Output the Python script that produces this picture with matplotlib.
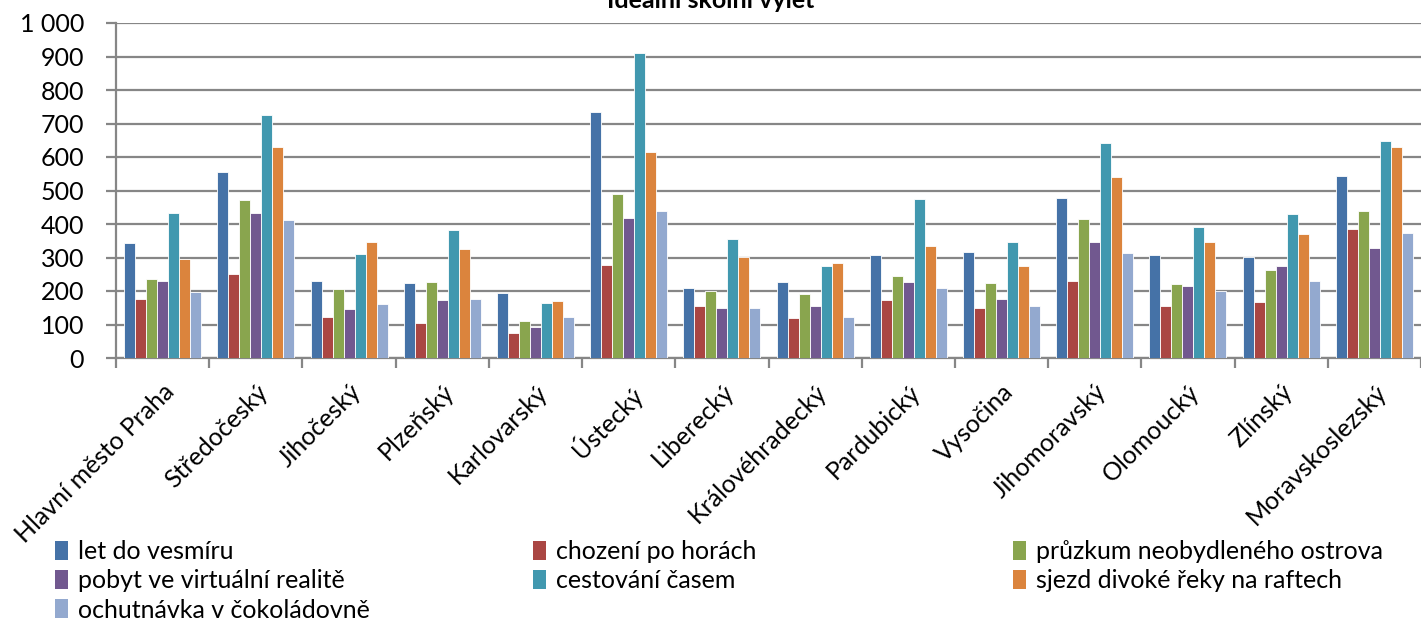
import numpy as np
import matplotlib
matplotlib.use("Agg")
import matplotlib.pyplot as plt
from matplotlib.ticker import FuncFormatter, FixedLocator
from matplotlib.patches import Patch

plt.rcParams['font.family'] = ['Lato', 'DejaVu Sans']

# === data ===
regions = ["Hlavní město Praha", "Středočeský", "Jihočeský", "Plzeňský",
           "Karlovarský", "Ústecký", "Liberecký", "Královéhradecký",
           "Pardubický", "Vysočina", "Jihomoravský", "Olomoucký",
           "Zlínský", "Moravskoslezský"]
series_names = ["let do vesmíru", "chození po horách",
                "průzkum neobydleného ostrova", "pobyt ve virtuální realitě",
                "cestování časem", "sjezd divoké řeky na raftech",
                "ochutnávka v čokoládovně"]
vesmir = [342, 556, 229, 225, 194, 733, 208, 228, 306, 315, 477, 306, 302, 543]
hory = [175, 250, 121, 103, 76, 277, 156, 118, 172, 150, 229, 154, 167, 384]
ostrov = [235, 472, 205, 227, 111, 491, 199, 192, 246, 223, 415, 220, 264, 438]
virtual = [229, 432, 147, 174, 93, 417, 150, 155, 226, 175, 346, 216, 274, 328]
cas = [432, 726, 309, 382, 163, 911, 354, 275, 474, 347, 641, 390, 429, 647]
raft = [297, 630, 346, 325, 169, 615, 301, 284, 334, 276, 539, 347, 369, 631]
cokolada = [197, 413, 162, 177, 122, 440, 148, 121, 208, 155, 312, 199, 231, 372]
colors = ["#4572A7", "#AA4643", "#89A54E", "#71588F", "#4198AF", "#DB843D", "#93A9CF"]

all_series = [vesmir, hory, ostrov, virtual, cas, raft, cokolada]

# === figure ===
fig = plt.figure(figsize=(14.21, 6.22), dpi=100)
ax = fig.add_axes([116 / 1421, 1 - 358 / 622, 1 - 116 / 1421, (358 - 23) / 622])

x = np.arange(len(regions))
w = 0.826 / 7
for i, (vals, c) in enumerate(zip(all_series, colors)):
    ax.bar(x + (i - 3) * w, vals, width=w, color=c, edgecolor="white",
           linewidth=0.6, zorder=3)

ax.set_xlim(-0.5, len(regions) - 0.5)
ax.set_ylim(0, 1000)
ax.set_yticks(np.arange(0, 1001, 100))
ax.yaxis.set_major_formatter(FuncFormatter(lambda v, p: f"{int(v):,}".replace(",", " ")))
ax.grid(axis="y", color="#868686", linewidth=1.6, zorder=0)
ax.set_axisbelow(True)

for s in ["top", "right"]:
    ax.spines[s].set_visible(False)
for s in ["left", "bottom"]:
    ax.spines[s].set_color("#868686")
    ax.spines[s].set_linewidth(1.6)

ax.tick_params(axis="y", length=7, width=1.6, color="#868686", labelsize=18, pad=16)

# category labels at centres, tick marks at boundaries
ax.set_xticks(x)
ax.set_xticklabels(regions, rotation=45, ha="right", rotation_mode="anchor", fontsize=18)
ax.xaxis.set_minor_locator(FixedLocator(np.arange(-0.5, len(regions), 1)))
ax.tick_params(axis="x", which="major", length=0, pad=16)
ax.tick_params(axis="x", which="minor", length=7, width=1.6, color="#868686")

fig.text(0.5, 1 - 8 / 622, "Ideální školní výlet", ha="center", va="baseline",
         fontsize=18, fontweight="bold")

# legend in three columns, row-major like the original
cols = [[0, 3, 6], [1, 4], [2, 5]]
col_x = [45, 523, 1003]
for idx, cx in zip(cols, col_x):
    handles = [Patch(facecolor=colors[k], edgecolor="none", label=series_names[k]) for k in idx]
    fig.legend(handles=handles, loc="upper left",
               bbox_to_anchor=(cx / 1421, 1 - 530 / 622), frameon=False,
               fontsize=18, handlelength=0.5, handleheight=0.8,
               handletextpad=0.4, labelspacing=0.25, borderaxespad=0)

fig.savefig("out.png", dpi=100)
